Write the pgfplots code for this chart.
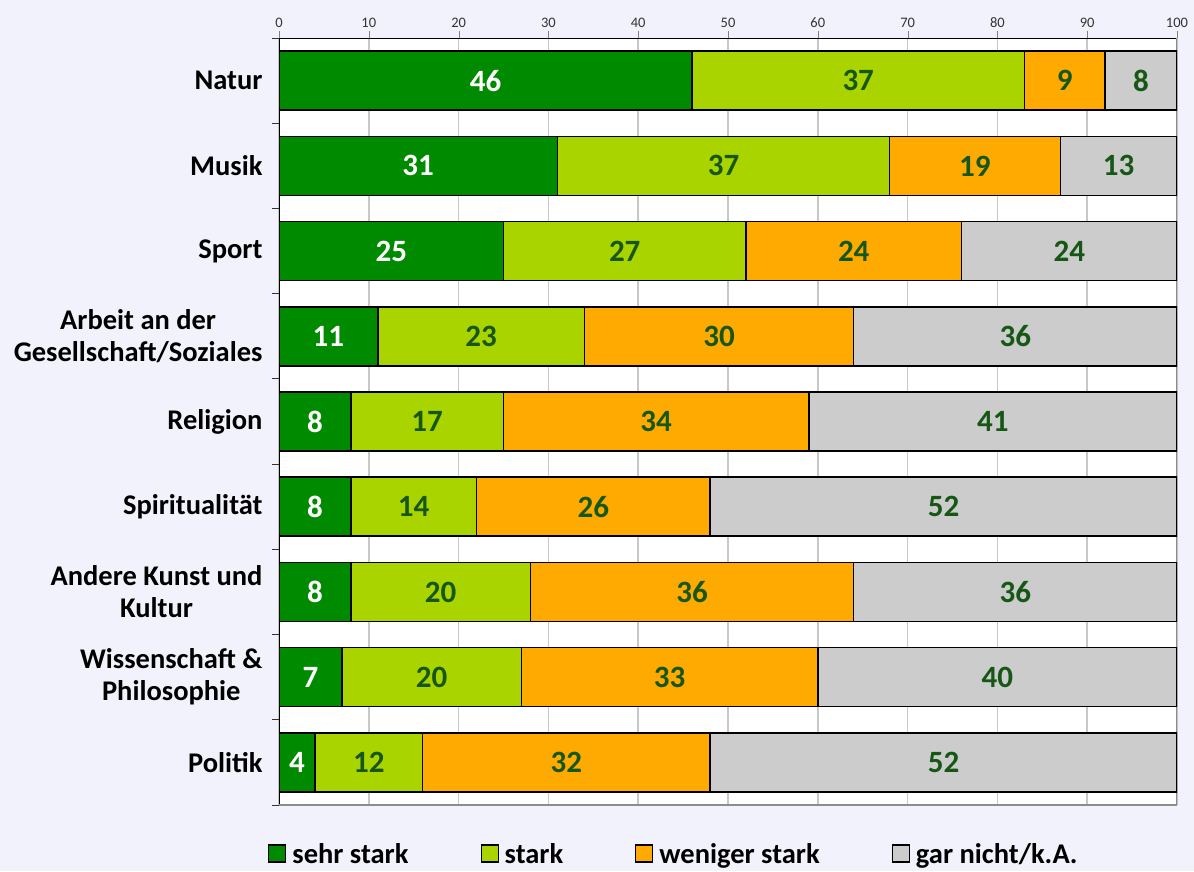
\documentclass[border=0pt]{standalone}
\usepackage{fontspec}
\setmainfont{Carlito}
\usepackage{pgfplots}
\usepackage{pgfplotstable}
\pgfplotsset{compat=1.18}
\definecolor{bg}{HTML}{F2F2FC}
\definecolor{cA}{HTML}{008A00}
\definecolor{cB}{HTML}{AAD400}
\definecolor{cC}{HTML}{FFAA00}
\definecolor{cD}{HTML}{CCCCCC}
\definecolor{txt}{HTML}{165716}
\definecolor{gridc}{HTML}{C8C8C8}

\pgfplotstableread{
y a b c d
0 46 37 9 8
1 31 37 19 13
2 25 27 24 24
3 11 23 30 36
4 8 17 34 41
5 8 14 26 52
6 8 20 36 36
7 7 20 33 40
8 4 12 32 52
}\data

\begin{document}
\begin{tikzpicture}
\path[use as bounding box] (0,0) rectangle (1194pt,871pt);
\fill[bg] (0,0) rectangle (1194pt,871pt);
\begin{axis}[
  at={(279pt,66pt)}, anchor=south west,
  scale only axis, width=898pt, height=767pt,
  xbar stacked, bar width=59pt,
  xmin=0, xmax=100, ymin=-0.5, ymax=8.5, y dir=reverse,
  axis background/.style={fill=white},
  axis x line*=top, axis y line*=left,
  axis line style={-, draw=black, line width=1pt},
  tick align=outside, major tick length=7pt,
  xtick={0,10,...,100},
  xticklabel style={font=\fontsize{14.5}{16}\selectfont, text=black!80},
  xmajorgrids, grid style={gridc, line width=1.5pt},
  ytick={-0.5,0.5,...,8.5}, yticklabels={},
  ytick style={draw=black!80, line width=1pt},
  extra y ticks={0,1,2,3,4,5,6,7,8},
  extra y tick labels={Natur,Musik,Sport,{Arbeit an der\\Gesellschaft/Soziales},Religion,Spiritualität,{Andere Kunst und\\Kultur},{Wissenschaft \&\\Philosophie},Politik},
  extra y tick style={major tick length=0pt, tick style={draw=none},
     yticklabel style={font=\fontsize{28.5}{32}\selectfont\bfseries, align=center, xshift=-13pt}},
  /pgf/number format/assume math mode=true,
  point meta=explicit,
  nodes near coords,
  every node near coord/.append style={font=\fontsize{31}{33}\selectfont\bfseries, anchor=center},
  legend columns=4,
  legend style={at={(axis description cs:0,0)}, anchor=north west, xshift=-14pt, yshift=-34pt,
     draw=none, fill=none, font=\fontsize{28.5}{32}\selectfont\bfseries,
     /tikz/every odd column/.append style={column sep=4pt},
     /tikz/every even column/.append style={column sep=70pt}},
  legend image code/.code={\draw[#1, draw=black, line width=1.2pt] (0pt,-8pt) rectangle (17pt,9pt);},
]
\addplot[fill=cA, draw=black, line width=1.5pt, every node near coord/.append style={text=white}] table[x=a,y=y,meta=a] {\data};
\addplot[fill=cB, draw=black, line width=1.5pt, every node near coord/.append style={text=txt}] table[x=b,y=y,meta=b] {\data};
\addplot[fill=cC, draw=black, line width=1.5pt, every node near coord/.append style={text=txt}] table[x=c,y=y,meta=c] {\data};
\addplot[fill=cD, draw=black, line width=1.5pt, every node near coord/.append style={text=txt}] table[x=d,y=y,meta=d] {\data};
\legend{sehr stark, stark, weniger stark, gar nicht/k.A.}
\draw[black!45, line width=3pt] (axis description cs:1,1) -- (axis description cs:1,0) -- (axis description cs:0,0);
\end{axis}
\end{tikzpicture}
\end{document}
